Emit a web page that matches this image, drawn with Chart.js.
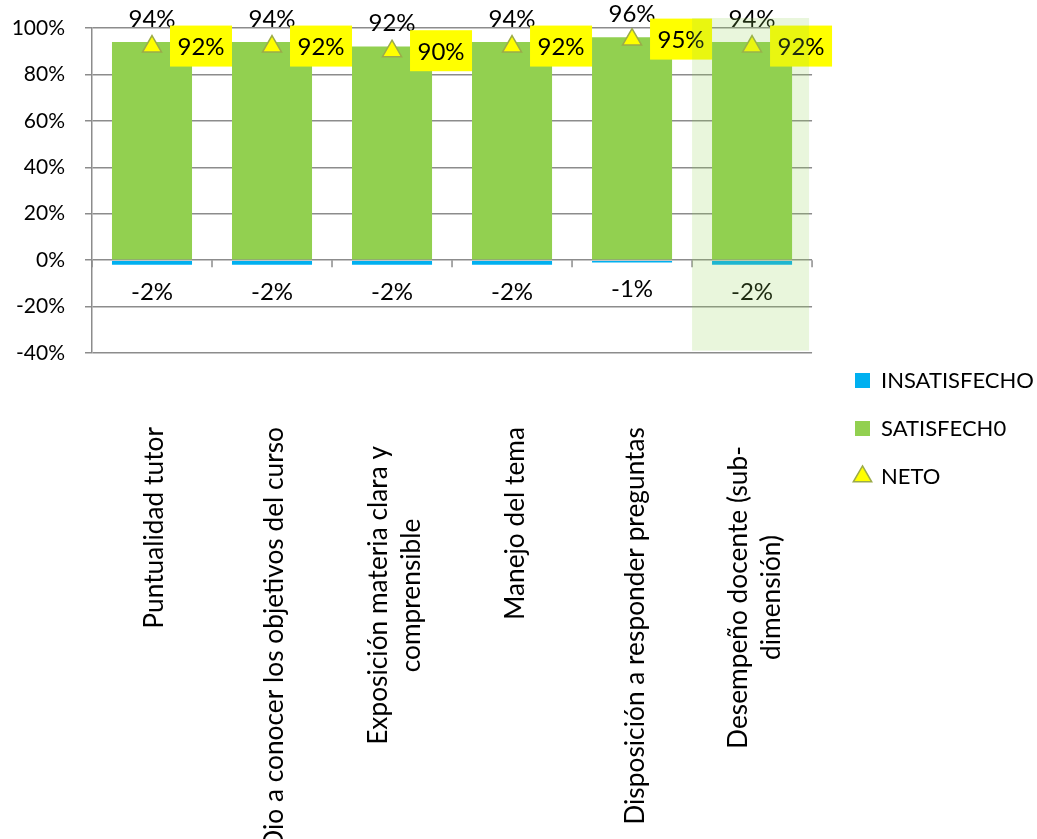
<!DOCTYPE html>
<html>
<head>
<meta charset="utf-8">
<script src="https://cdn.jsdelivr.net/npm/chart.js@4.4.1/dist/chart.umd.min.js"></script>
<style>
  html, body { margin: 0; padding: 0; background: #fff; }
</style>
</head>
<body>
<canvas id="grafico" width="1037" height="839"></canvas>
<script>
// datos
const categorias = [
  "Puntualidad tutor",
  "Dio a conocer los objetivos del curso",
  ["Exposición materia clara y", "comprensible"],
  "Manejo del tema",
  "Disposición a responder preguntas",
  ["Desempeño docente (sub-", "dimensión)"]
];
const insatisfecho = [-2, -2, -2, -2, -1, -2];
const satisfecho = [94, 94, 92, 94, 96, 94];
const neto = [92, 92, 90, 92, 95, 92];
const nombresSeries = ["INSATISFECHO", "SATISFECH0", "NETO"];
const ejeMin = -40, ejeMax = 100, ejePaso = 20;
const categoriaResaltada = 5;

const FUENTE = "Lato, 'Open Sans', sans-serif";
const GRIS = "#8c8c8c";

// marcas pequeñas del eje X sobre la linea del 0%
const marcasX = {
  id: "marcasX",
  beforeDatasetsDraw(chart) {
    const { ctx, scales: { x, y } } = chart;
    const y0 = y.getPixelForValue(0);
    const ancho = x.getPixelForValue(1) - x.getPixelForValue(0);
    ctx.save();
    ctx.strokeStyle = GRIS;
    ctx.lineWidth = 1.5;
    for (let i = 0; i <= categorias.length; i++) {
      const px = x.getPixelForValue(0) - ancho / 2 + i * ancho;
      ctx.beginPath();
      ctx.moveTo(px, y0);
      ctx.lineTo(px, y0 + 7);
      ctx.stroke();
    }
    ctx.restore();
  }
};

// etiquetas de valores
const etiquetas = {
  id: "etiquetas",
  afterDatasetsDraw(chart) {
    const ctx = chart.ctx;
    ctx.save();
    ctx.font = "24px " + FUENTE;
    ctx.textAlign = "center";
    ctx.textBaseline = "middle";
    ctx.fillStyle = "#000";
    chart.getDatasetMeta(1).data.forEach((b, i) => {
      ctx.fillText(satisfecho[i] + "%", b.x, b.y - 23);
    });
    chart.getDatasetMeta(0).data.forEach((b, i) => {
      ctx.fillText(insatisfecho[i] + "%", b.x, b.y + 27);
    });
    chart.getDatasetMeta(2).data.forEach((p, i) => {
      ctx.fillStyle = "#ffff00";
      ctx.fillRect(p.x + 18, p.y - 21, 62, 41);
      ctx.fillStyle = "#000";
      ctx.fillText(neto[i] + "%", p.x + 49, p.y + 1);
    });
    ctx.restore();
  }
};

// nombres de categoria girados, con lineas centradas
const etiquetasX = {
  id: "etiquetasX",
  afterDraw(chart) {
    const { ctx, scales: { x } } = chart;
    const lh = 33;
    ctx.save();
    ctx.font = "26.3px " + FUENTE;
    ctx.fillStyle = "#000";
    ctx.textAlign = "center";
    ctx.textBaseline = "middle";
    categorias.forEach((c, i) => {
      const lineas = Array.isArray(c) ? c : [c];
      const ancho = Math.max(...lineas.map(t => ctx.measureText(t).width));
      const arriba = 427 + (lineas.length - 1) * 19;
      ctx.save();
      ctx.translate(x.getPixelForValue(i) + 3, arriba);
      ctx.rotate(-Math.PI / 2);
      lineas.forEach((t, j) => {
        ctx.fillText(t, -ancho / 2, (j - (lineas.length - 1) / 2) * lh);
      });
      ctx.restore();
    });
    ctx.restore();
  }
};

// recuadro verde claro sobre la ultima categoria
const resaltado = {
  id: "resaltado",
  afterDraw(chart) {
    const { ctx, scales: { x, y } } = chart;
    const ancho = x.getPixelForValue(1) - x.getPixelForValue(0);
    const cx = x.getPixelForValue(categoriaResaltada);
    const arriba = y.getPixelForValue(104.3);
    const abajo = y.getPixelForValue(-39);
    ctx.save();
    ctx.fillStyle = "rgba(146, 208, 80, 0.2)";
    ctx.fillRect(cx - ancho / 2, arriba, ancho - 3, abajo - arriba);
    ctx.restore();
  }
};

// mover la leyenda a su sitio
const posLeyenda = {
  id: "posLeyenda",
  afterLayout(chart) {
    const l = chart.legend;
    const d = 829 - l.left;
    l.left += d;
    l.right += d;
    l.top -= 5;
    l.bottom -= 5;
  }
};

new Chart(document.getElementById("grafico"), {
  data: {
    labels: categorias,
    datasets: [
      {
        type: "bar",
        label: nombresSeries[0],
        data: insatisfecho,
        backgroundColor: "#00b0f0",
        pointStyle: "rect",
        stack: "a",
        order: 1
      },
      {
        type: "bar",
        label: nombresSeries[1],
        data: satisfecho,
        backgroundColor: "#92d050",
        pointStyle: "rect",
        stack: "a",
        order: 1
      },
      {
        type: "line",
        label: nombresSeries[2],
        data: neto,
        showLine: false,
        stack: "neto",
        order: 0,
        pointStyle: "triangle",
        pointRadius: 11,
        pointHoverRadius: 11,
        pointBackgroundColor: "#ffff00",
        pointBorderColor: "#9bab4a",
        pointBorderWidth: 1.5,
        backgroundColor: "#ffff00",
        borderColor: "#9bab4a",
        borderWidth: 1.5
      }
    ]
  },
  options: {
    responsive: false,
    animation: false,
    layout: { padding: { top: 28, right: 10, left: 0, bottom: 0 } },
    datasets: { bar: { barPercentage: 0.667, categoryPercentage: 1 } },
    scales: {
      x: {
        stacked: true,
        grid: { display: false, drawTicks: false },
        border: { display: false },
        ticks: { display: false },
        afterFit(s) { s.height = 486; }
      },
      y: {
        stacked: true,
        min: ejeMin,
        max: ejeMax,
        grid: { color: GRIS, lineWidth: 1.5, tickLength: 7 },
        border: { color: GRIS, width: 1.5 },
        ticks: {
          stepSize: ejePaso,
          padding: 20,
          color: "#000",
          font: { family: FUENTE, size: 21 },
          callback: v => v + "%"
        },
        afterFit(s) {
          s.width = 92;
          s.paddingTop = 0;
          s.paddingBottom = 0;
        }
      }
    },
    plugins: {
      tooltip: { enabled: false },
      legend: {
        position: "right",
        align: "center",
        labels: {
          usePointStyle: true,
          boxWidth: 15,
          boxHeight: 15,
          padding: 26,
          color: "#000",
          font: { family: FUENTE, size: 22 },
          sort: (a, b) => a.datasetIndex - b.datasetIndex
        }
      }
    }
  },
  plugins: [marcasX, etiquetas, etiquetasX, resaltado, posLeyenda]
});
</script>
</body>
</html>
